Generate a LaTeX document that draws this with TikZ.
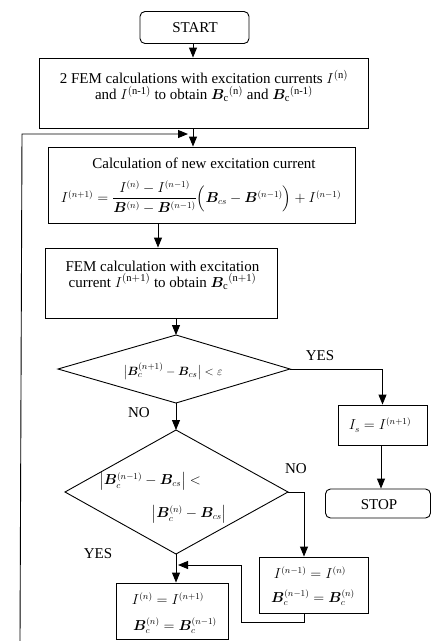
\documentclass[tikz,border=0pt]{standalone}
\usepackage{amsmath}
\usepackage{bm}
\usepackage{fontspec}
\setmainfont{Liberation Serif}
\usetikzlibrary{arrows.meta}
\newcommand{\BB}{\bm{B}}
\begin{document}
\begin{tikzpicture}[x=1pt,y=-1pt, line width=0.9pt,
  box/.style={draw, rectangle, inner sep=0pt},
  term/.style={draw, rectangle, rounded corners=5pt, inner sep=0pt},
  txt/.style={font=\fontsize{15}{16}\selectfont, align=center, inner sep=0pt},
  mtxt/.style={font=\fontsize{13.5}{15}\selectfont, align=center, inner sep=0pt},
  lbl/.style={font=\fontsize{15}{16}\selectfont, inner sep=0pt},
  arr/.style={-{Triangle[length=10pt,width=8pt]}}]
\useasboundingbox (0,0) rectangle (431,641);

% boxes
\node[term, minimum width=109pt, minimum height=32pt] (start) at (194.5,27.5) {};
\node[txt] at (195,28) {START};

\node[box, minimum width=329pt, minimum height=70pt] (b2) at (203.5,93) {};
\node[txt] at (204,86) {2 FEM calculations with excitation currents $I^{\mathrm{(n)}}$\\
  and $I^{\mathrm{(n\text{-}1)}}$ to obtain $\BB_{\mathrm{c}}{}^{\mathrm{(n)}}$ and $\BB_{\mathrm{c}}{}^{\mathrm{(n\text{-}1)}}$};

\node[box, minimum width=307pt, minimum height=76pt] (b3) at (201.5,185) {};
\node[txt] at (204,163) {Calculation of new excitation current};
\node[mtxt, font=\fontsize{13.5}{15}\selectfont] at (201,197) {$I^{(n+1)} = \dfrac{I^{(n)} - I^{(n-1)}}{\BB^{(n)} - \BB^{(n-1)}}\Bigl(\BB_{cs} - \BB^{(n-1)}\Bigr) + I^{(n-1)}$};

\node[box, minimum width=232pt, minimum height=70pt] (b4) at (161,283) {};
\node[txt] at (162.5,275) {FEM calculation with excitation\\
  current $I^{\mathrm{(n+1)}}$ to obtain $\BB_{\mathrm{c}}{}^{\mathrm{(n+1)}}$};

% diamond 1
\coordinate (d1t) at (176,335);
\coordinate (d1b) at (176,403);
\coordinate (d1l) at (58,369);
\coordinate (d1r) at (290,369);
\draw (d1t) -- (d1r) -- (d1b) -- (d1l) -- cycle;
\node[mtxt, font=\fontsize{12.5}{14}\selectfont] at (173,371) {$\bigl|\BB_c^{(n+1)} - \BB_{cs}\bigr| < \varepsilon$};

% diamond 2
\coordinate (d2t) at (176,430);
\coordinate (d2b) at (176,554);
\coordinate (d2l) at (65,492);
\coordinate (d2r) at (288,492);
\draw (d2t) -- (d2r) -- (d2b) -- (d2l) -- cycle;
\node[mtxt] at (150,481) {$\bigl|\BB_c^{(n-1)} - \BB_{cs}\bigr| <$};
\node[mtxt] at (189,514) {$\bigl|\BB_c^{(n)} - \BB_{cs}\bigr|$};

\node[box, minimum width=89pt, minimum height=40pt] (is) at (382.5,425) {};
\node[mtxt] at (380,425) {$I_s = I^{(n+1)}$};

\node[term, minimum width=105pt, minimum height=29pt] (stop) at (378,503.5) {};
\node[txt] at (379,505) {STOP};

\node[box, minimum width=109pt, minimum height=56pt] (rb) at (313.5,585) {};
\node[mtxt] at (310,573) {$I^{(n-1)} = I^{(n)}$};
\node[mtxt] at (313,598) {$\BB_c^{(n-1)} = \BB_c^{(n)}$};

\node[box, minimum width=112pt, minimum height=56pt] (bb) at (172,611) {};
\node[mtxt] at (168,599) {$I^{(n)} = I^{(n+1)}$};
\node[mtxt] at (175,626) {$\BB_c^{(n)} = \BB_c^{(n-1)}$};

% labels
\node[lbl] at (320,356) {YES};
\node[lbl] at (139,413) {NO};
\node[lbl] at (296,469) {NO};
\node[lbl] at (98,554) {YES};

% connectors
\draw[arr] (start.south -| 193,0) -- (b2.north -| 193,0);
\draw[arr] (b2.south -| 193,0) -- (b3.north -| 193,0);
\coordinate (loopend) at (20,641);
\coordinate (loopc) at (22,134);
\draw[arr] (loopend) -- (loopc) -- (188,134);
\draw[arr] (b3.south -| 158,0) -- (b4.north -| 158,0);
\draw[arr] (b4.south -| 176,0) -- (d1t);
\draw[arr] (d1r) -- (d1r -| is.north) -- (is.north);
\draw[arr] (is.south -| 381,0) -- (stop.north -| 381,0);
\draw[arr] (d1b) -- (d2t);
\draw[arr] (d2r) -- (d2r -| 304,0) -- (rb.north -| 304,0);
\draw[arr] (d2b) -- (d2b |- bb.north);
\draw[arr] (rb.south -| 304,0) -- (304,622) -- (241,622) -- (241,565) -- (178,565);
\end{tikzpicture}
\end{document}
